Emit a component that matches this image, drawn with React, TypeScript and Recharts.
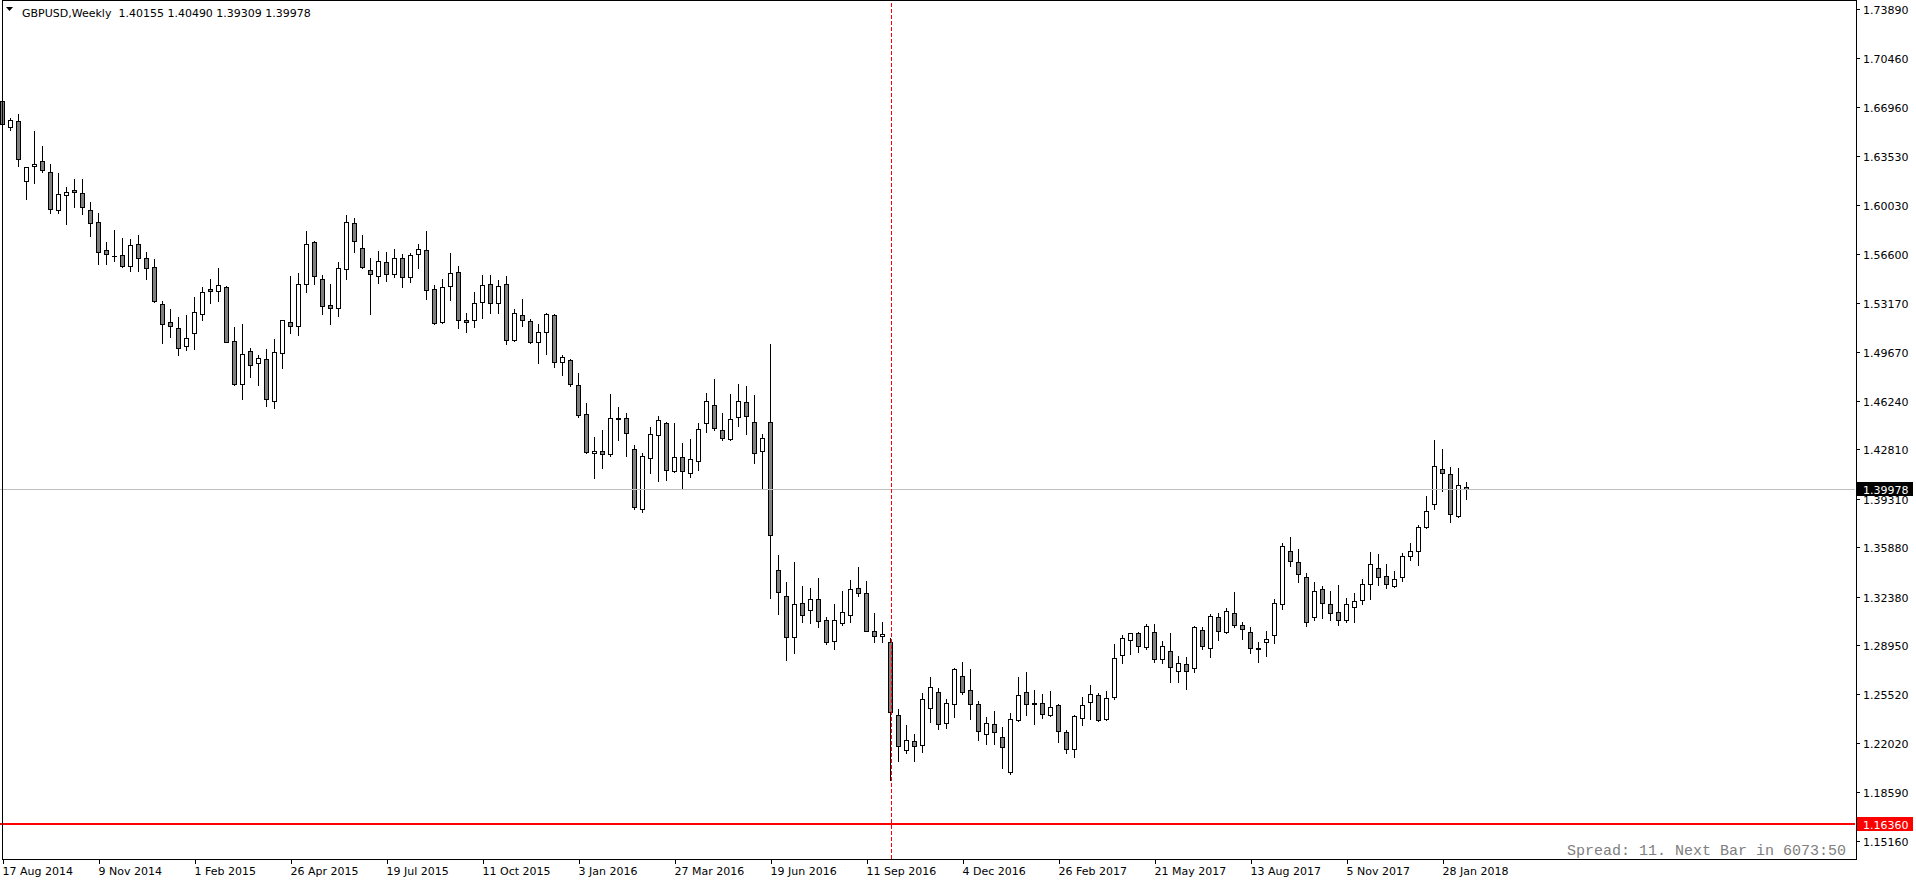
import { ComposedChart, Bar, XAxis, YAxis, ReferenceLine } from 'recharts';

const W = 1916;
const H = 884;
const FONT = '"DejaVu Sans", Verdana, sans-serif';
const FRAME_R = 1856; // right border column of the plot frame
const FRAME_B = 859; // bottom border row

// GBPUSD weekly, first bar = week of 17 Aug 2014, last bar = current week
const opens = [
  1.6741, 1.6555, 1.6598, 1.6174, 1.628, 1.6315, 1.6237, 1.5969, 1.6075, 1.6112,
  1.6089, 1.5969, 1.5884, 1.5686, 1.5647, 1.5651, 1.5573, 1.5728, 1.563, 1.5566,
  1.5305, 1.5177, 1.5135, 1.5008, 1.51, 1.5234, 1.5411, 1.5396, 1.5425, 1.5043,
  1.4739, 1.4973, 1.4888, 1.4916, 1.4619, 1.4958, 1.5177, 1.5149, 1.5446, 1.5743,
  1.5481, 1.5297, 1.5276, 1.5552, 1.5877, 1.57, 1.5545, 1.5502, 1.5601, 1.5517,
  1.563, 1.5495, 1.5658, 1.5686, 1.5411, 1.5177, 1.5432, 1.5531, 1.5192, 1.5192,
  1.5319, 1.5446, 1.5312, 1.5446, 1.505, 1.5227, 1.5185, 1.5036, 1.5107, 1.5227,
  1.4895, 1.4909, 1.4732, 1.4527, 1.4252, 1.4266, 1.4245, 1.4499, 1.4499, 1.428,
  1.3856, 1.4217, 1.4379, 1.4464, 1.4125, 1.4224, 1.4111, 1.4196, 1.4464, 1.4591,
  1.4414, 1.4351, 1.4506, 1.4612, 1.4471, 1.4266, 1.4471, 1.3425, 1.3242, 1.2952,
  1.3192, 1.3143, 1.322, 1.3072, 1.2924, 1.3051, 1.3107, 1.3298, 1.3263, 1.2994,
  1.2959, 1.2917, 1.2401, 1.2154, 1.2217, 1.2189, 1.245, 1.2563, 1.2344, 1.2479,
  1.2677, 1.2578, 1.2479, 1.2267, 1.2337, 1.2245, 1.1998, 1.2366, 1.2563, 1.2488,
  1.2486, 1.2401, 1.2472, 1.2281, 1.2161, 1.238, 1.2493, 1.2542, 1.2373, 1.2528,
  1.2825, 1.2931, 1.298, 1.2881, 1.2987, 1.2796, 1.2853, 1.2712, 1.2761, 1.2733,
  1.3001, 1.2874, 1.3093, 1.2987, 1.3121, 1.3037, 1.2987, 1.2872, 1.2921, 1.2966,
  1.3185, 1.356, 1.3482, 1.3376, 1.3093, 1.3291, 1.3185, 1.3129, 1.3072, 1.3164,
  1.3213, 1.3326, 1.3439, 1.3383, 1.3312, 1.3376, 1.3524, 1.356, 1.3729, 1.3892,
  1.4139, 1.4104, 1.3807, 1.40155,
];
const highs = [
  1.6746, 1.6619, 1.6649, 1.6277, 1.6529, 1.6423, 1.6296, 1.6233, 1.6134, 1.619,
  1.619, 1.6028, 1.595, 1.5745, 1.583, 1.5773, 1.5766, 1.5794, 1.5672, 1.5623,
  1.5328, 1.5272, 1.5215, 1.5229, 1.5357, 1.5427, 1.5484, 1.5561, 1.5432, 1.5144,
  1.5166, 1.4994, 1.4944, 1.4987, 1.5057, 1.5192, 1.5505, 1.5524, 1.582, 1.575,
  1.5509, 1.5448, 1.5604, 1.5936, 1.5912, 1.5792, 1.563, 1.5679, 1.5672, 1.5693,
  1.5658, 1.5665, 1.5728, 1.582, 1.5439, 1.5481, 1.5665, 1.5573, 1.5241, 1.5389,
  1.5509, 1.5509, 1.5477, 1.5505, 1.5269, 1.534, 1.5199, 1.5163, 1.5241, 1.5234,
  1.4944, 1.4916, 1.4817, 1.4605, 1.4365, 1.4415, 1.4669, 1.4577, 1.4535, 1.4308,
  1.4252, 1.4436, 1.4513, 1.4471, 1.4464, 1.4323, 1.4351, 1.4464, 1.4676, 1.4775,
  1.4535, 1.4669, 1.4739, 1.4725, 1.4662, 1.4386, 1.5024, 1.3531, 1.3341, 1.3482,
  1.3312, 1.3298, 1.3369, 1.3093, 1.3185, 1.3277, 1.3355, 1.3447, 1.3348, 1.3122,
  1.3058, 1.2945, 1.2443, 1.233, 1.2267, 1.2556, 1.267, 1.2592, 1.2514, 1.2733,
  1.2778, 1.2726, 1.25, 1.2387, 1.2429, 1.2316, 1.2415, 1.2669, 1.2705, 1.2577,
  1.2549, 1.257, 1.2479, 1.2295, 1.2401, 1.2528, 1.2613, 1.2556, 1.257, 1.2902,
  1.2966, 1.2982, 1.2987, 1.3044, 1.3044, 1.2924, 1.298, 1.2818, 1.2811, 1.303,
  1.3023, 1.3114, 1.3121, 1.3157, 1.327, 1.3058, 1.3023, 1.2917, 1.2994, 1.322,
  1.3616, 1.3658, 1.3574, 1.3404, 1.3341, 1.3312, 1.3277, 1.3319, 1.3228, 1.3263,
  1.3362, 1.3553, 1.3538, 1.3468, 1.3418, 1.3545, 1.3616, 1.3743, 1.3948, 1.4344,
  1.428, 1.4153, 1.4146, 1.4049,
];
const lows = [
  1.6572, 1.6539, 1.6284, 1.6051, 1.6164, 1.6242, 1.5952, 1.5952, 1.5875, 1.5995,
  1.5945, 1.579, 1.5592, 1.5592, 1.5613, 1.5571, 1.5543, 1.5543, 1.5486, 1.5321,
  1.5034, 1.5076, 1.4949, 1.4984, 1.4992, 1.5196, 1.5316, 1.5331, 1.5036, 1.4735,
  1.4636, 1.4794, 1.4735, 1.4589, 1.457, 1.4857, 1.5104, 1.509, 1.5394, 1.5451,
  1.5239, 1.5168, 1.5224, 1.5486, 1.5672, 1.5559, 1.5233, 1.5453, 1.5467, 1.5495,
  1.5425, 1.546, 1.5564, 1.534, 1.5166, 1.5173, 1.5333, 1.5135, 1.5107, 1.5142,
  1.5206, 1.5241, 1.5246, 1.5027, 1.5043, 1.5154, 1.5034, 1.4893, 1.4956, 1.4864,
  1.4808, 1.473, 1.4506, 1.4252, 1.4078, 1.4151, 1.4231, 1.4349, 1.4236, 1.3856,
  1.3835, 1.4115, 1.4054, 1.4061, 1.4118, 1.4002, 1.4082, 1.4132, 1.4405, 1.4414,
  1.4344, 1.4344, 1.4443, 1.4386, 1.4181, 1.4009, 1.3228, 1.3119, 1.2794, 1.2844,
  1.3063, 1.3056, 1.3023, 1.2903, 1.2867, 1.3037, 1.3058, 1.3242, 1.2994, 1.2917,
  1.2917, 1.1944, 1.2081, 1.2133, 1.2081, 1.214, 1.2351, 1.2302, 1.2309, 1.2387,
  1.2549, 1.2373, 1.2224, 1.2196, 1.2196, 1.2031, 1.1984, 1.2363, 1.2406, 1.2342,
  1.238, 1.2398, 1.221, 1.2132, 1.2104, 1.233, 1.2373, 1.2363, 1.2366, 1.2514,
  1.2768, 1.2832, 1.2846, 1.2867, 1.2775, 1.2768, 1.2634, 1.2634, 1.2585, 1.2705,
  1.2867, 1.2811, 1.2931, 1.2985, 1.3023, 1.2938, 1.2842, 1.2775, 1.282, 1.291,
  1.315, 1.3454, 1.3341, 1.303, 1.3072, 1.3086, 1.3072, 1.3037, 1.3058, 1.3058,
  1.3185, 1.322, 1.3319, 1.3298, 1.331, 1.3348, 1.3496, 1.3461, 1.3722, 1.3856,
  1.3983, 1.3764, 1.38, 1.39309,
];
const closes = [
  1.6576, 1.6605, 1.6329, 1.6273, 1.6296, 1.6251, 1.5976, 1.6082, 1.6096, 1.6096,
  1.599, 1.5877, 1.5672, 1.5658, 1.5645, 1.5578, 1.5721, 1.563, 1.5559, 1.5326,
  1.5163, 1.5149, 1.4994, 1.5064, 1.5248, 1.5389, 1.5396, 1.5439, 1.5036, 1.4745,
  1.4951, 1.4874, 1.4923, 1.4633, 1.4965, 1.5192, 1.5149, 1.5446, 1.5728, 1.5502,
  1.529, 1.5276, 1.5559, 1.5884, 1.575, 1.5566, 1.5517, 1.5608, 1.5517, 1.563,
  1.5495, 1.5651, 1.5693, 1.5404, 1.517, 1.5425, 1.5524, 1.5192, 1.5177, 1.5312,
  1.5439, 1.5312, 1.5432, 1.505, 1.5241, 1.5192, 1.5036, 1.5107, 1.5234, 1.4895,
  1.493, 1.4739, 1.452, 1.4259, 1.4266, 1.4245, 1.4499, 1.4492, 1.4393, 1.387,
  1.4231, 1.4386, 1.4485, 1.4132, 1.4224, 1.4125, 1.421, 1.4422, 1.4619, 1.4429,
  1.4358, 1.4492, 1.4619, 1.4513, 1.4252, 1.4358, 1.3673, 1.327, 1.2952, 1.3185,
  1.3107, 1.322, 1.3065, 1.2917, 1.3072, 1.3129, 1.3291, 1.3263, 1.2994, 1.2959,
  1.2973, 1.2422, 1.2182, 1.2224, 1.2182, 1.2514, 1.2599, 1.2337, 1.2486, 1.2726,
  1.2563, 1.2479, 1.2288, 1.2344, 1.2281, 1.2175, 1.2373, 1.2542, 1.2478, 1.2483,
  1.2408, 1.2457, 1.2288, 1.2161, 1.2394, 1.2472, 1.2549, 1.2366, 1.2521, 1.2803,
  1.2945, 1.298, 1.2888, 1.303, 1.2796, 1.2888, 1.274, 1.2768, 1.2712, 1.3023,
  1.2888, 1.31, 1.2994, 1.3136, 1.3037, 1.3008, 1.288, 1.288, 1.2938, 1.3192,
  1.3595, 1.3489, 1.3397, 1.3058, 1.3277, 1.3192, 1.3122, 1.3072, 1.3185, 1.3206,
  1.3326, 1.3468, 1.3376, 1.3326, 1.3362, 1.3524, 1.356, 1.3729, 1.3842, 1.416,
  1.4111, 1.3821, 1.4026, 1.39978,
];

// time axis labels (bar index -> label), every 12 weeks
const tickWeeks = [0, 12, 24, 36, 48, 60, 72, 84, 96, 108, 120, 132, 144, 156, 168, 180];
const tickLabels = [
  '17 Aug 2014', '9 Nov 2014', '1 Feb 2015', '26 Apr 2015', '19 Jul 2015', '11 Oct 2015',
  '3 Jan 2016', '27 Mar 2016', '19 Jun 2016', '11 Sep 2016', '4 Dec 2016', '26 Feb 2017',
  '21 May 2017', '13 Aug 2017', '5 Nov 2017', '28 Jan 2018',
];

const priceTicks = [
  1.7389, 1.7046, 1.6696, 1.6353, 1.6003, 1.566, 1.5317, 1.4967, 1.4624,
  1.4281, 1.3931, 1.3588, 1.3238, 1.2895, 1.2552, 1.2202, 1.1859, 1.1516,
];

const lastPrice = 1.39978;
const levelPrice = 1.1636;
const separatorWeek = 111;
const SLOTS = 232; // bar slots across the window (empty ones on the right)
const Y_MIN = 1.13858;
const Y_MAX = 1.74547;

const chartData = Array.from({ length: SLOTS }, (_, i) =>
  i < opens.length
    ? { i, open: opens[i], high: highs[i], low: lows[i], close: closes[i] }
    : { i }
);

function Candle(props: any) {
  const { x, y, width, height, payload } = props;
  if (!payload || payload.open == null || !isFinite(y)) return <g />;
  const { open, high, low, close } = payload;
  const top = Math.min(y, y + height);
  const h = Math.abs(height);
  const range = high - low || 1;
  const py = (v: number) => top + ((high - v) / range) * h;
  const cx = Math.floor(x + width / 2) + 0.5;
  const bTop = Math.round(py(Math.max(open, close))) + 0.5;
  const bBot = Math.round(py(Math.min(open, close))) + 0.5;
  const up = close > open;
  return (
    <g>
      <line x1={cx} x2={cx} y1={Math.round(py(high))} y2={Math.round(py(low)) + 1} stroke="#000" />
      {bBot - bTop >= 1 ? (
        <rect x={cx - 2} y={bTop} width={4} height={bBot - bTop} fill={up ? '#fff' : '#808080'} stroke="#000" />
      ) : (
        <line x1={cx - 2.5} x2={cx + 2.5} y1={bTop} y2={bTop} stroke="#000" />
      )}
    </g>
  );
}

function DateTick(props: any) {
  const { x, payload } = props;
  const k = tickWeeks.indexOf(payload.value);
  const tx = Math.floor(x) + 0.5;
  return (
    <g>
      <line x1={tx} x2={tx} y1={FRAME_B + 1} y2={FRAME_B + 5} stroke="#000" />
      <text x={tx - 1} y={875} fontSize={11} fontFamily={FONT} fill="#000" textAnchor="start">
        {k >= 0 ? tickLabels[k] : ''}
      </text>
    </g>
  );
}

function PriceTick(props: any) {
  const { y, payload } = props;
  const v = payload.value;
  const yy = Math.round(y) + 0.5;
  if (v === lastPrice || v === levelPrice) {
    return (
      <g>
        <rect x={FRAME_R + 1} y={Math.round(y) - 7} width={56} height={14} fill={v === lastPrice ? '#000' : '#ff0000'} />
        <text x={1863} y={yy + 4} fontSize={11} fontFamily={FONT} fill="#fff">
          {v.toFixed(5)}
        </text>
      </g>
    );
  }
  return (
    <g>
      <line x1={FRAME_R + 1} x2={FRAME_R + 4} y1={yy} y2={yy} stroke="#000" />
      <text x={1863} y={yy + 4} fontSize={11} fontFamily={FONT} fill="#000">
        {v.toFixed(5)}
      </text>
    </g>
  );
}

// period separator: dashed red line through the chosen bar
function Separator(props: any) {
  const { x1, y1, y2 } = props;
  const sx = Math.floor(x1) + 0.5;
  return (
    <line x1={sx} x2={sx} y1={y1} y2={y2} stroke="#ff0000" strokeWidth={1} strokeDasharray="4 2" />
  );
}

export default function App() {
  return (
    <div style={{ position: 'absolute', left: 0, top: 0, width: W, height: H, background: '#fff' }}>
      <ComposedChart width={W} height={H} data={chartData} margin={{ top: 0, right: 0, bottom: 0, left: -1 }}>
        <XAxis
          dataKey="i"
          type="category"
          ticks={tickWeeks}
          interval={0}
          height={25}
          axisLine={false}
          tickLine={false}
          tick={<DateTick />}
        />
        <YAxis
          orientation="right"
          type="number"
          domain={[Y_MIN, Y_MAX]}
          allowDataOverflow
          ticks={[...priceTicks, lastPrice, levelPrice]}
          interval={0}
          width={61}
          axisLine={false}
          tickLine={false}
          tick={<PriceTick />}
        />
        <ReferenceLine y={lastPrice} stroke="#c0c0c0" shapeRendering="crispEdges" />
        <ReferenceLine y={levelPrice} stroke="#ff0000" strokeWidth={2} shapeRendering="crispEdges" />
        <Bar
          dataKey={(d: any) => (d.open == null ? null : [d.low, d.high])}
          shape={(p: any) => <Candle {...p} />}
          isAnimationActive={false}
        />
        <ReferenceLine x={separatorWeek} stroke="#ff0000" shape={(p: any) => <Separator {...p} />} />
      </ComposedChart>
      <svg width={W} height={H} style={{ position: 'absolute', left: 0, top: 0, pointerEvents: 'none' }}>
        <rect x={2.5} y={0.5} width={FRAME_R - 2} height={FRAME_B} fill="none" stroke="#000" />
        <polygon points="6,7 13,7 9.5,11" fill="#000" />
        <text x={22} y={17} fontSize={11} fontFamily={FONT} fill="#000" style={{ whiteSpace: 'pre' }}>
          {'GBPUSD,Weekly  1.40155 1.40490 1.39309 1.39978'}
        </text>
        <text
          x={1846}
          y={855}
          fontSize={15}
          fontFamily='"Liberation Mono", "Courier New", monospace'
          fill="#808080"
          textAnchor="end"
          style={{ whiteSpace: 'pre' }}
        >
          {'Spread: 11. Next Bar in 6073:50'}
        </text>
      </svg>
    </div>
  );
}
